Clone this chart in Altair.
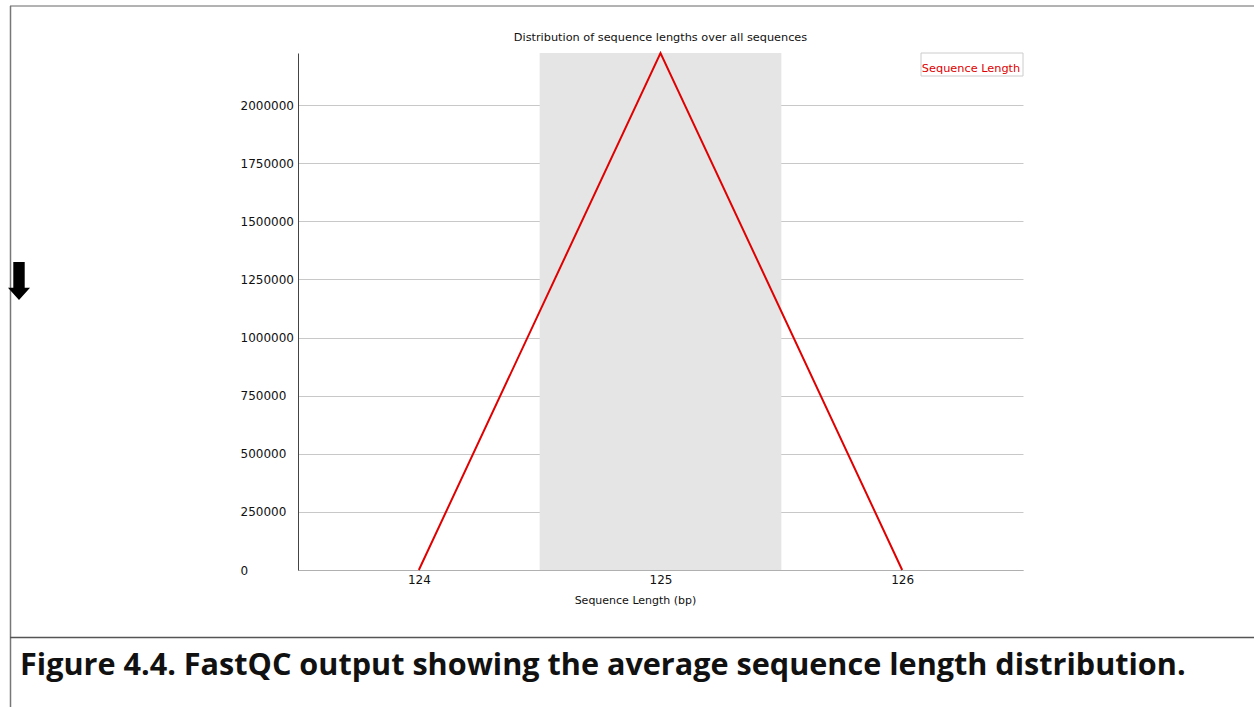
import altair as alt
import pandas as pd

# Read-length histogram (FastQC "Sequence Length Distribution")
lengths = [124, 125, 126]
counts = [0, 2224000, 0]

# Shaded band around the modal length
band_lo = [124.5]
band_hi = [125.5]

y_ticks = [0, 250000, 500000, 750000, 1000000, 1250000, 1500000, 1750000, 2000000]
x_ticks = [124, 125, 126]

plot_title = "Distribution of sequence lengths over all sequences"
legend_label = "Sequence Length"
caption = "Figure 4.4. FastQC output showing the average sequence length distribution."

W, H = 725, 517
PAD_L, PAD_T = 298, 53
RED = "#e00000"

df = pd.DataFrame({"length": lengths, "count": counts})
band_df = pd.DataFrame({"lo": band_lo, "hi": band_hi})

x_scale = alt.Scale(domain=[123.5, 126.5], nice=False, zero=False)
y_scale = alt.Scale(domain=[0, max(counts)], nice=False)

band = alt.Chart(band_df).mark_rect(color="#e5e5e5").encode(
    x=alt.X("lo:Q", scale=x_scale),
    x2="hi:Q",
)

line = alt.Chart(df).mark_line(strokeWidth=2, color=RED).encode(
    x=alt.X(
        "length:Q",
        scale=x_scale,
        axis=alt.Axis(
            values=x_ticks,
            format="d",
            grid=False,
            ticks=False,
            tickSize=0,
            labelPadding=4,
            labelFont="DejaVu Sans",
            labelFontSize=12,
            labelColor="#111",
            domainColor="#b0b0b0",
            domainWidth=1,
            title="Sequence Length (bp)",
            titleFont="DejaVu Sans",
            titleFontSize=11,
            titleFontWeight="normal",
            titleColor="#111",
            titleX=337,
            titleY=24,
            titleAlign="center",
        ),
    ),
    y=alt.Y(
        "count:Q",
        scale=y_scale,
        axis=alt.Axis(
            values=y_ticks,
            format="d",
            grid=True,
            gridColor="#c8c8c8",
            gridWidth=1,
            ticks=False,
            tickSize=0,
            labelAlign="left",
            labelPadding=58,
            labelFont="DejaVu Sans",
            labelFontSize=12,
            labelColor="#111",
            domainColor="#444",
            domainWidth=1,
            title=None,
        ),
    ),
)

# Title and legend box drawn inside the plot frame
title_text = alt.Chart(band_df).mark_text(
    text=plot_title, align="center", baseline="middle",
    font="DejaVu Sans", fontSize=11.3, color="#111", clip=False,
).encode(x=alt.value(W / 2), y=alt.value(-15))

legend_box = alt.Chart(band_df).mark_rect(
    fill="white", stroke="#cccccc", strokeWidth=1, clip=False,
).encode(x=alt.value(623), x2=alt.value(725), y=alt.value(0), y2=alt.value(23))

legend_text = alt.Chart(band_df).mark_text(
    text=legend_label, align="center", baseline="middle",
    font="DejaVu Sans", fontSize=11.3, color=RED, clip=False,
).encode(x=alt.value(673), y=alt.value(15.5))

# Page furniture: outer frame, caption divider, caption text and arrow marker
top_border = alt.Chart(band_df).mark_rule(color="#666", strokeWidth=1, clip=False).encode(
    x=alt.value(-288), x2=alt.value(956), y=alt.value(-47)
)
left_border = alt.Chart(band_df).mark_rule(color="#777", strokeWidth=1.5, clip=False).encode(
    x=alt.value(-287.5), y=alt.value(-47), y2=alt.value(654)
)
divider = alt.Chart(band_df).mark_rule(color="#555", strokeWidth=1.5, clip=False).encode(
    x=alt.value(-288), x2=alt.value(956), y=alt.value(584.5)
)
caption_text = alt.Chart(band_df).mark_text(
    text=caption,
    align="left",
    baseline="middle",
    font="Open Sans",
    fontWeight="bold",
    fontSize=30.6,
    color="#111",
    clip=False,
).encode(x=alt.value(-278), y=alt.value(613))

arrow = alt.Chart(band_df).mark_point(
    shape="M-0.3,-1L0.3,-1L0.3,0.35L0.58,0.35L0,1L-0.58,0.35L-0.3,0.35Z",
    filled=True,
    color="black",
    opacity=1,
    size=1444,
    clip=False,
).encode(x=alt.value(-279), y=alt.value(228))

chart = (
    alt.layer(
        band, line, legend_box, legend_text, title_text,
        top_border, left_border, divider, caption_text, arrow,
    )
    .properties(
        width=W,
        height=H,
        background="white",
        padding={"left": PAD_L, "top": PAD_T, "right": 1254 - PAD_L - W, "bottom": 707 - PAD_T - H},
        autosize=alt.AutoSizeParams(type="none"),
    )
    .configure_view(stroke="transparent", strokeWidth=0)
)

chart.save("out.html", embed_options={"renderer": "svg", "actions": False})
